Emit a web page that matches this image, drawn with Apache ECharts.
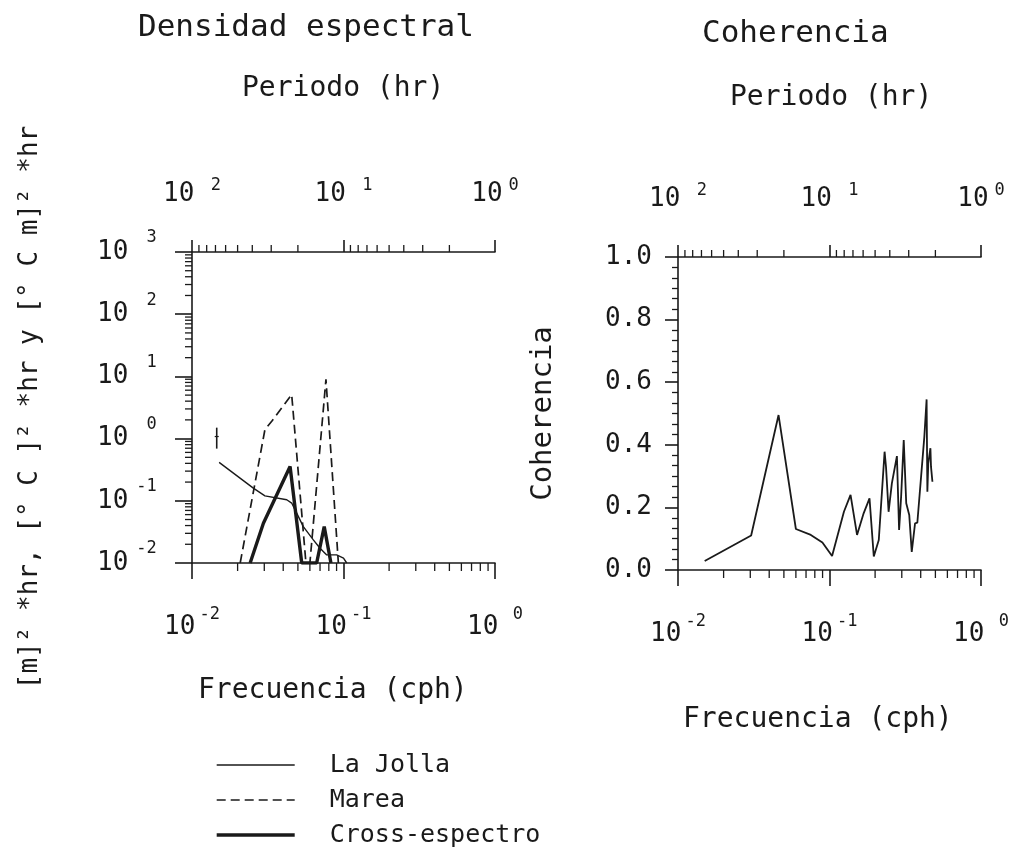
<!DOCTYPE html>
<html lang="es">
<head>
<meta charset="UTF-8" />
<script src="https://cdn.jsdelivr.net/npm/echarts@6/dist/echarts.min.js"></script>
<title>Densidad espectral y coherencia</title>
<style>
  html, body { margin: 0; background: #fff; }
  #main { width: 1011px; height: 855px; }
</style>
</head>
<body>
<div id="main"></div>
<script>
// --- densidad espectral (frecuencia en cph) ---
const laJollaFreq = [0.0151, 0.0254, 0.0303, 0.0422, 0.0455, 0.0491, 0.0543, 0.0632, 0.070, 0.0775, 0.0901, 0.100, 0.105];
const laJollaVal  = [0.415, 0.160, 0.120, 0.104, 0.092, 0.0634, 0.0385, 0.0235, 0.0173, 0.0135, 0.0135, 0.012, 0.01];

const mareaFreq = [0.0208, 0.0303, 0.0336, 0.0455, 0.0565, 0.0600, 0.0766, 0.0925];
const mareaVal  = [0.01, 1.40, 1.90, 5.1, 0.01, 0.01, 8.96, 0.01];

const crossFreq = [0.0242, 0.0296, 0.0444, 0.053, 0.0665, 0.0746, 0.0826];
const crossVal  = [0.01, 0.0437, 0.357, 0.01, 0.01, 0.0385, 0.01];

// barra de confianza: [frecuencia, inferior, superior, centro]
const confBar = [0.01456, 0.69, 1.5, 1.08];

// --- coherencia ---
const cohFreq = [0.0150, 0.0304, 0.0461, 0.060, 0.0753, 0.0898, 0.104, 0.1245, 0.1377, 0.152, 0.168, 0.1837,
  0.196, 0.2115, 0.231, 0.236, 0.2455, 0.258, 0.2786, 0.288, 0.297, 0.309, 0.321, 0.336, 0.349, 0.367,
  0.380, 0.4227, 0.4375, 0.4426, 0.4487, 0.4636, 0.4677, 0.478];
const cohVal = [0.029, 0.110, 0.495, 0.131, 0.112, 0.088, 0.045, 0.186, 0.240, 0.112, 0.181, 0.229,
  0.043, 0.096, 0.378, 0.33, 0.186, 0.277, 0.364, 0.128, 0.234, 0.415, 0.213, 0.176, 0.058, 0.149,
  0.151, 0.426, 0.545, 0.25, 0.341, 0.389, 0.33, 0.282];

// --- marcas de los ejes ---
const minorMantissas = [2, 3, 4, 5, 6, 7, 8, 9];
const freqDecades = [0.01, 0.1];
const periodDecades = [1, 10];
const densDecades = [0.01, 0.1, 1, 10, 100];

const F = 'DejaVu Sans Mono';
const C = '#1a1a1a';
const zip = (a, b) => a.map((v, i) => [v, b[i]]);
const minorOf = decades => decades.flatMap(d => minorMantissas.map(m => +(m * d).toPrecision(3)));

const rich = {
  b: { fontFamily: F, fontSize: 26, color: C, verticalAlign: 'middle' },
  s: { fontFamily: F, fontSize: 17, color: C, verticalAlign: 'top', padding: [0, 0, 28, 8] },
};
const richBottom = {
  b: { fontFamily: F, fontSize: 26, color: C, verticalAlign: 'middle' },
  s: { fontFamily: F, fontSize: 17, color: C, verticalAlign: 'top', padding: [0, 0, 26, 4] },
};
const richTop = {
  b: { fontFamily: F, fontSize: 26, color: C, verticalAlign: 'middle' },
  s: { fontFamily: F, fontSize: 17, color: C, verticalAlign: 'top', padding: [0, 0, 18, 6] },
};
const expLabel = v => {
  const e = Math.round(Math.log10(v));
  return '{b|10}{s|' + (e >= 0 ? ' ' + e : e) + '}';
};
const expLabelTop = v => {
  const e = Math.round(Math.log10(v));
  return '{b|10}{s|' + (e > 0 ? ' ' + e : e) + '}';
};
const axisLineStyle = { color: C, width: 1.6 };

const logX = (grid, min, max, pos, extra) => Object.assign({
  gridIndex: grid, type: 'log', logBase: 10, min, max, position: pos,
  axisLine: { show: true, onZero: false, lineStyle: axisLineStyle },
  axisTick: { show: true, inside: false, length: pos === 'top' ? 12 : 16, lineStyle: axisLineStyle },
  axisLabel: pos === 'top'
    ? { formatter: expLabelTop, rich: richTop, margin: 40 }
    : { formatter: expLabel, rich: richBottom, margin: 43 },
  splitLine: { show: false },
}, extra);

// marcas menores dibujadas con las escalas del eje
const tickSeries = (xIdx, yIdx, data, dx, dy) => ({
  type: 'custom', xAxisIndex: xIdx, yAxisIndex: yIdx, silent: true, clip: false, z: 3,
  data,
  renderItem: (params, api) => {
    const p = api.coord([api.value(0), api.value(1)]);
    return {
      type: 'line',
      shape: { x1: p[0], y1: p[1], x2: p[0] + dx, y2: p[1] + dy },
      style: { stroke: C, lineWidth: 1.3 },
    };
  },
});

const chart = echarts.init(document.getElementById('main'));
const option = {
  animation: false,
  backgroundColor: '#fff',
  color: [C],
  title: [
    { text: 'Densidad espectral', left: 138, top: 12, padding: 0, textStyle: { fontFamily: F, fontSize: 31, fontWeight: 'normal', color: C } },
    { text: 'Periodo (hr)', left: 242, top: 75, padding: 0, textStyle: { fontFamily: F, fontSize: 28, fontWeight: 'normal', color: C } },
    { text: 'Coherencia', left: 702, top: 18, padding: 0, textStyle: { fontFamily: F, fontSize: 31, fontWeight: 'normal', color: C } },
    { text: 'Periodo (hr)', left: 730, top: 84, padding: 0, textStyle: { fontFamily: F, fontSize: 28, fontWeight: 'normal', color: C } },
    { text: 'Frecuencia (cph)', left: 198, top: 677, padding: 0, textStyle: { fontFamily: F, fontSize: 28, fontWeight: 'normal', color: C } },
    { text: 'Frecuencia (cph)', left: 683, top: 706, padding: 0, textStyle: { fontFamily: F, fontSize: 28, fontWeight: 'normal', color: C } },
  ],
  legend: {
    data: ['La Jolla', 'Marea', 'Cross-espectro'],
    orient: 'vertical', left: 215, top: 751, padding: 0,
    itemWidth: 78, itemHeight: 14, itemGap: 7, selectedMode: false,
    itemStyle: { opacity: 0 },
    lineStyle: { width: 'inherit' },
    textStyle: { fontFamily: F, fontSize: 25, color: C, lineHeight: 28, padding: [0, 0, 0, 30] },
  },
  grid: [
    { left: 192, top: 252, width: 303, height: 311, outerBoundsMode: 'none' },
    { left: 678, top: 257, width: 303, height: 313, outerBoundsMode: 'none' },
  ],
  xAxis: [
    logX(0, 0.01, 1, 'bottom'),
    logX(0, 1, 100, 'top', { inverse: true }),
    logX(1, 0.01, 1, 'bottom'),
    logX(1, 1, 100, 'top', { inverse: true }),
  ],
  yAxis: [
    {
      gridIndex: 0, type: 'log', logBase: 10, min: 0.01, max: 1000, splitNumber: 5,
      axisLine: { show: true, onZero: false, lineStyle: axisLineStyle },
      axisTick: { show: true, length: 17, lineStyle: axisLineStyle },
      axisLabel: { formatter: expLabel, rich, align: 'left', margin: 95 },
      splitLine: { show: false },
      name: '[m]² *hr, [° C ]² *hr y [° C m]² *hr',
      nameLocation: 'middle', nameGap: 149,
      nameTextStyle: { fontFamily: F, fontSize: 26, color: C },
    },
    {
      gridIndex: 1, type: 'value', min: 0, max: 1, interval: 0.2,
      axisLine: { show: true, onZero: false, lineStyle: axisLineStyle },
      axisTick: { show: true, length: 13, lineStyle: axisLineStyle },
      minorTick: { show: true, splitNumber: 6, length: 6, lineStyle: { color: C, width: 1.3 } },
      axisLabel: { formatter: v => v.toFixed(1), align: 'left', margin: 73, fontFamily: F, fontSize: 26, color: C },
      splitLine: { show: false }, minorSplitLine: { show: false },
      name: 'Coherencia', nameLocation: 'middle', nameGap: 120,
      nameTextStyle: { fontFamily: F, fontSize: 29, color: C },
    },
  ],
  series: [
    {
      name: 'La Jolla', type: 'line', xAxisIndex: 0, yAxisIndex: 0, symbol: 'none',
      itemStyle: { color: C }, lineStyle: { color: C, width: 1.4 }, data: zip(laJollaFreq, laJollaVal),
    },
    {
      name: 'Marea', type: 'line', xAxisIndex: 0, yAxisIndex: 0, symbol: 'none',
      itemStyle: { color: C }, lineStyle: { color: C, width: 1.7, type: [9, 5] }, data: zip(mareaFreq, mareaVal),
    },
    {
      name: 'Cross-espectro', type: 'line', xAxisIndex: 0, yAxisIndex: 0, symbol: 'none',
      itemStyle: { color: C }, lineStyle: { color: C, width: 3.4 }, data: zip(crossFreq, crossVal),
    },
    {
      name: 'confianza', type: 'custom', xAxisIndex: 0, yAxisIndex: 0, silent: true,
      data: [confBar],
      renderItem: (params, api) => {
        const lo = api.coord([api.value(0), api.value(1)]);
        const hi = api.coord([api.value(0), api.value(2)]);
        const mid = api.coord([api.value(0), api.value(3)]);
        return {
          type: 'group', children: [
            { type: 'line', shape: { x1: lo[0], y1: lo[1], x2: hi[0], y2: hi[1] }, style: { stroke: C, lineWidth: 1.6 } },
            { type: 'line', shape: { x1: mid[0] - 2, y1: mid[1], x2: mid[0] + 2, y2: mid[1] }, style: { stroke: C, lineWidth: 1.2 } },
          ],
        };
      },
    },
    {
      name: 'Coherencia', type: 'line', xAxisIndex: 2, yAxisIndex: 1, symbol: 'none',
      itemStyle: { color: C }, lineStyle: { color: C, width: 1.8 }, data: zip(cohFreq, cohVal),
    },
    // marcas menores
    tickSeries(0, 0, minorOf(freqDecades).map(v => [v, 0.01]), 0, 8),
    tickSeries(1, 0, minorOf(periodDecades).map(v => [v, 1000]), 0, -7),
    tickSeries(0, 0, minorOf(densDecades).map(v => [0.01, v]), -7, 0),
    tickSeries(2, 1, minorOf(freqDecades).map(v => [v, 0]), 0, 8),
    tickSeries(3, 1, minorOf(periodDecades).map(v => [v, 1]), 0, -7),
  ],
};
chart.setOption(option);
</script>
</body>
</html>
